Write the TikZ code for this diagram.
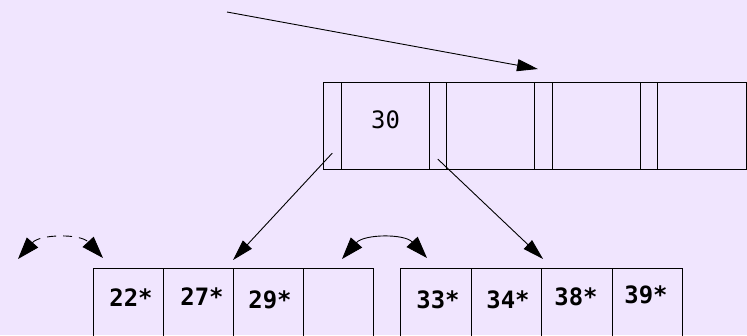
\documentclass[tikz,border=0pt]{standalone}
\usepackage{fontspec}
\setmonofont{DejaVu Sans Mono}
\usetikzlibrary{arrows.meta}
\definecolor{bg}{RGB}{240,229,254}
\begin{document}
\begin{tikzpicture}[x=1bp,y=-1bp,
  cellbase/.style={draw=black, line width=1.1bp, inner sep=0pt, anchor=north west, minimum height=87bp},
  ptrcell/.style={cellbase, minimum width=17.5bp},
  keycell/.style={cellbase, minimum width=88bp},
  leafcell/.style={draw=black, line width=1.1bp, inner sep=0pt, anchor=north west, minimum height=80bp, minimum width=70bp},
  leafcellb/.style={leafcell, minimum width=70.5bp},
  entry/.style={font=\ttfamily\bfseries\fontsize{24}{24}\selectfont, inner sep=0pt, anchor=base},
  keytxt/.style={font=\ttfamily\fontsize{24}{24}\selectfont, inner sep=0pt, anchor=base},
  arr/.style={line width=0.9bp, -{Triangle[length=21bp,width=12bp]}},
  dblarr/.style={line width=0.9bp, {Triangle[length=22bp,width=15bp]}-{Triangle[length=22bp,width=15bp]}}
]
\useasboundingbox (0,0) rectangle (747,335);
\clip (0,0) rectangle (747,335);
\fill[bg] (0,0) rectangle (747,335);

% root node
\node[ptrcell] (p0) at (323,82) {};
\node[keycell] (k1) at (340.5,82) {};
\node[ptrcell] (p1) at (428.5,82) {};
\node[keycell] (k2) at (446,82) {};
\node[ptrcell] (p2) at (534,82) {};
\node[keycell] (k3) at (551.5,82) {};
\node[ptrcell] (p3) at (639.5,82) {};
\node[keycell, minimum width=89bp] (k4) at (657,82) {};
\node[keytxt] (t30) at (385.5,128) {30};

% left leaf
\node[leafcell] (l1) at (93,268) {};
\node[leafcell] (l2) at (163,268) {};
\node[leafcell] (l3) at (233,268) {};
\node[leafcell] (l4) at (303,268) {};
\node[entry] (t22) at (131,306.5) {22*};
\node[entry] (t27) at (202,305.5) {27*};
\node[entry] (t29) at (270,308.5) {29*};

% right leaf
\node[leafcellb] (r1) at (400,268) {};
\node[leafcellb] (r2) at (470.5,268) {};
\node[leafcellb] (r3) at (541,268) {};
\node[leafcellb] (r4) at (611.5,268) {};
\node[entry] (t33) at (438,308.5) {33*};
\node[entry] (t34) at (508,308.5) {34*};
\node[entry] (t38) at (576,305.5) {38*};
\node[entry] (t39) at (646,303.5) {39*};

% incoming pointer
\coordinate (src) at (227,12);
\coordinate (p2top) at (538,69);
\draw[arr] (src) -- (p2top);

% child pointers
\draw[arr] ([yshift=17bp]p0.south) -- ([xshift=-1bp,yshift=8bp]l2.north east);
\draw[arr] ([yshift=11bp]p1.south) -- ([xshift=1bp,yshift=9bp]r2.north east);

% sibling links
\coordinate (dl) at (18,259);
\coordinate (dr) at (103,258);
\draw[dblarr, dash pattern=on 9bp off 7bp] (dl) to[bend left=48] (dr);
\coordinate (sl) at (342,259);
\coordinate (sr) at (427,258);
\draw[dblarr] (sl) to[bend left=48] (sr);
\end{tikzpicture}
\end{document}
